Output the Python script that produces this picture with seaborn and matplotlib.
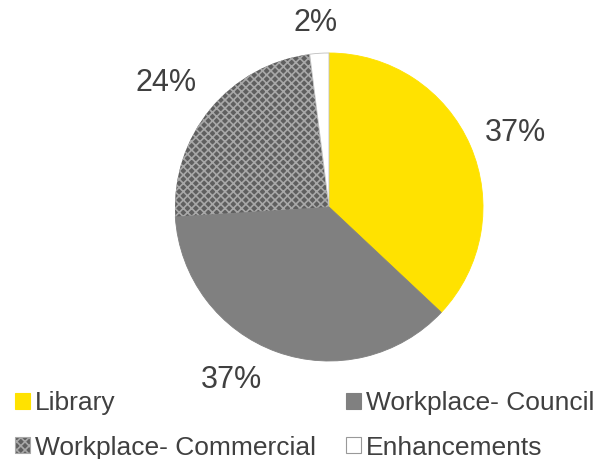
import matplotlib
matplotlib.use("Agg")
import matplotlib.pyplot as plt
import numpy as np
import seaborn as sns
from matplotlib.patches import Patch

sns.set_theme(style="white")
plt.rcParams["font.family"] = ["Liberation Sans", "DejaVu Sans"]
plt.rcParams["hatch.linewidth"] = 1.2

categories = ["Library", "Workplace- Council", "Workplace- Commercial", "Enhancements"]
shares = [37, 37, 24, 2]
colors = ["#FFE200", "#808080", "#5F5F5F", "#FFFFFF"]
hatches = [None, None, "xxxx", None]
# outside-end label placement: radius factor and angular nudge (degrees)
label_dist = [1.30, 1.29, 1.33, 1.20]
label_nudge = [-1.7, -9.5, 2.3, 0.7]
text_color = "#404040"

fig = plt.figure(figsize=(5.99, 4.59), dpi=100)
W, H = 599, 459
cx, cy, r = 329, 207, 154
ax = fig.add_axes([(cx - r) / W, (H - cy - r) / H, 2 * r / W, 2 * r / H])

wedges, _ = ax.pie(shares, colors=colors, startangle=90, counterclock=False,
                   wedgeprops=dict(edgecolor="#BFBFBF", linewidth=0.6))
for w, h in zip(wedges, hatches):
    if h:
        w.set_hatch(h)
        w.set_edgecolor("#A8A8A8")
        w.set_linewidth(0)
wedges[0].set_edgecolor("#FFE200")
wedges[1].set_edgecolor("#808080")

for w, v, d, n in zip(wedges, shares, label_dist, label_nudge):
    ang = np.deg2rad((w.theta1 + w.theta2) / 2 + n)
    ax.text(d * np.cos(ang), d * np.sin(ang), f"{v}%", ha="center", va="center",
            fontsize=22, color=text_color, clip_on=False)

ax.set_xlim(-1, 1)
ax.set_ylim(-1, 1)
ax.set_aspect("equal")
ax.axis("off")

handles = []
for c, h in zip(colors, hatches):
    edge = "#A8A8A8" if h else ("#999999" if c == "#FFFFFF" else c)
    handles.append(Patch(facecolor=c, edgecolor=edge, hatch=h, linewidth=0.8))

# legend fills row by row: Library / Council, then Commercial / Enhancements
order = [0, 2, 1, 3]
fig.legend([handles[i] for i in order], [categories[i] for i in order], ncol=2,
           loc="upper left", bbox_to_anchor=(0.003, 0.177), frameon=False,
           fontsize=19, borderpad=0, handlelength=0.55, handleheight=0.55,
           handletextpad=0.2, columnspacing=1.15, labelspacing=0.78,
           labelcolor=text_color)

fig.savefig("out.png", dpi=100, facecolor="white")
